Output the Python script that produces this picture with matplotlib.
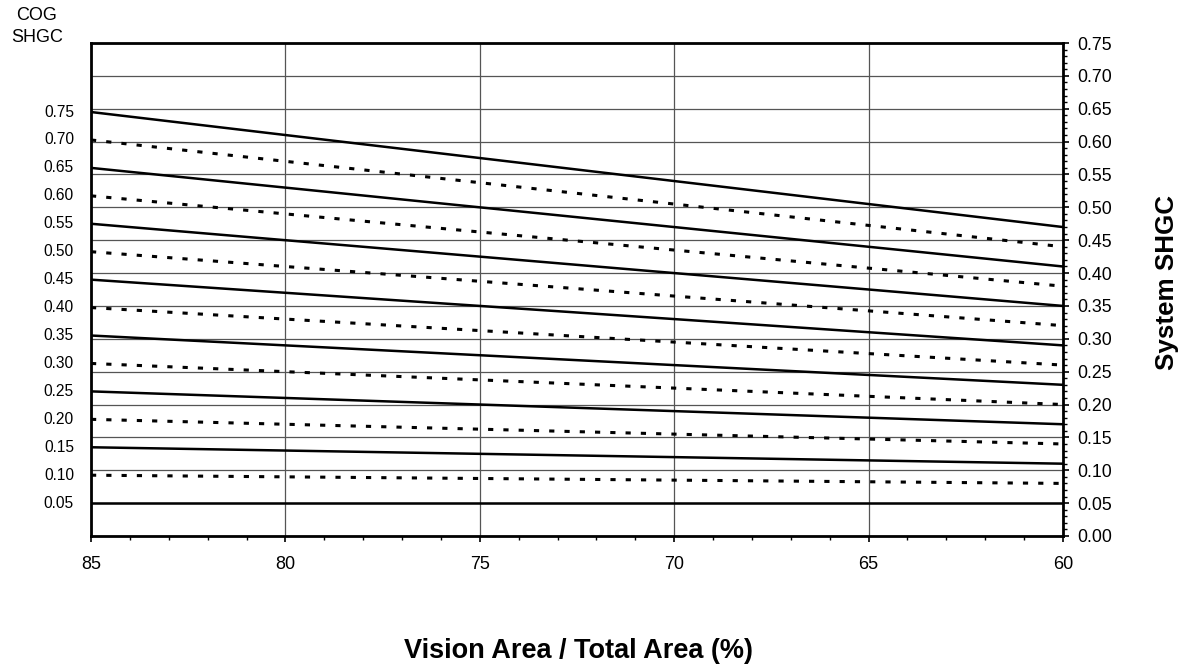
import matplotlib
matplotlib.use("Agg")
import matplotlib.pyplot as plt
from matplotlib.ticker import MultipleLocator, FormatStrFormatter
import matplotlib.transforms as mtransforms

plt.rcParams['font.family'] = ['Liberation Sans', 'DejaVu Sans']

# Data
x_points = [85, 60]
cog_labels = ["0.05", "0.10", "0.15", "0.20", "0.25", "0.30", "0.35", "0.40",
              "0.45", "0.50", "0.55", "0.60", "0.65", "0.70", "0.75"]
system_at_85 = [0.050, 0.0925, 0.135, 0.1775, 0.220, 0.2625, 0.305, 0.3475,
                0.390, 0.4325, 0.475, 0.5175, 0.560, 0.6025, 0.645]
system_at_60 = [0.050, 0.080, 0.110, 0.140, 0.170, 0.200, 0.230, 0.260,
                0.290, 0.320, 0.350, 0.380, 0.410, 0.440, 0.470]

fig = plt.figure(figsize=(11.93, 6.71), dpi=100)
ax = fig.add_axes([91/1193, 1-536/671, (1063-91)/1193, (536-43)/671])

ax.set_xlim(85, 60)
ax.set_ylim(0, 0.75)

trans = mtransforms.blended_transform_factory(ax.transAxes, ax.transData)
for i, (lab, y0, y1) in enumerate(zip(cog_labels, system_at_85, system_at_60)):
    if i % 2 == 0:
        ax.plot(x_points, [y0, y1], color='black', lw=1.8, solid_capstyle='butt', zorder=3)
    else:
        ax.plot(x_points, [y0, y1], color='black', lw=2.2, dashes=(1.7, 3.3), zorder=3)
    ax.text(-0.0175, y0, lab, transform=trans, ha='right', va='center', fontsize=11.2)

# right axis ticks
ax.yaxis.tick_right()
ax.yaxis.set_major_locator(MultipleLocator(0.05))
ax.yaxis.set_minor_locator(MultipleLocator(0.01))
ax.yaxis.set_major_formatter(FormatStrFormatter('%.2f'))
ax.xaxis.set_major_locator(MultipleLocator(5))
ax.xaxis.set_minor_locator(MultipleLocator(1))
ax.tick_params(axis='both', which='major', direction='out', length=4.5, width=1.2,
               color='black')
ax.tick_params(axis='both', which='minor', direction='out', length=3, width=1, color='black')
ax.tick_params(axis='y', pad=6, labelsize=12.8)
ax.tick_params(axis='x', pad=10, labelsize=13)

ax.grid(True, which='major', color='#555555', lw=0.9)
ax.set_axisbelow(True)

for side in ['left', 'right', 'top', 'bottom']:
    ax.spines[side].set_linewidth(2)
    ax.spines[side].set_color('black')

fig.text(37/1193, 1-15/671, "COG", ha='center', va='center', fontsize=13)
fig.text(37/1193, 1-38/671, "SHGC", ha='center', va='center', fontsize=13)

fig.text(1167/1193, 1-283/671, "System SHGC", rotation=90, ha='center', va='center',
         fontsize=18.7, fontweight='bold')
fig.text(579/1193, 1-651/671, "Vision Area / Total Area (%)", ha='center', va='center',
         fontsize=19.5, fontweight='bold')

fig.savefig("out.png", dpi=100, facecolor='white')
